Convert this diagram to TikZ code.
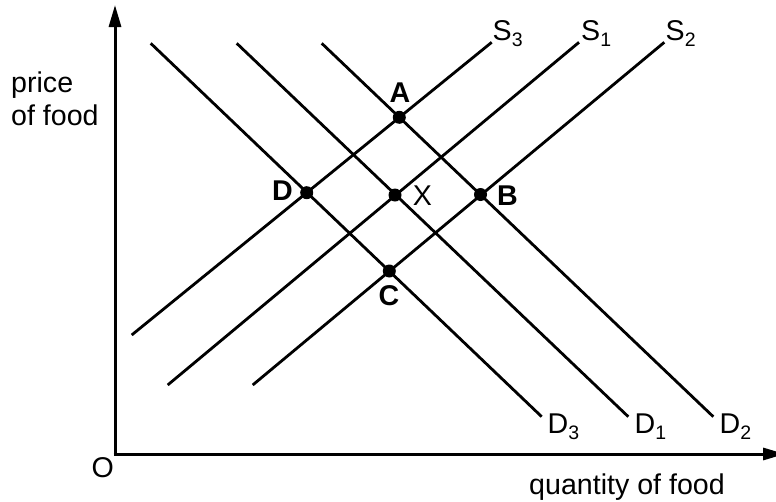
\documentclass[tikz,border=0pt]{standalone}
\usepackage{fontspec}
\setmainfont{Liberation Sans}
\usetikzlibrary{arrows.meta}
\newcommand{\sbs}[1]{\raisebox{-6pt}{\fontsize{19.5}{19.5}\selectfont #1}}
\begin{document}
\begin{tikzpicture}[x=1pt,y=-1pt,
  curve/.style={line width=2.8pt},
  axis/.style={line width=3pt,-{Triangle[length=22pt,width=12pt]}},
  dot/.style={circle,fill=black,inner sep=0pt,minimum size=13pt},
  lbl/.style={inner sep=0pt,font=\fontsize{28.6}{32}\selectfont},
  blbl/.style={inner sep=0pt,font=\fontsize{28.6}{32}\selectfont\bfseries}]
\useasboundingbox (0,0) rectangle (776,501);
% axes
\coordinate (O) at (115,454);
\coordinate (ytop) at (115,5);
\coordinate (xend) at (785,454);
\draw[axis] (O) -- (ytop);
\draw[axis] ([xshift=-1.5pt]O) -- (xend);
% demand lines
\coordinate (d3a) at (150.7,43.3); \coordinate (d3b) at (541.7,416.7);
\coordinate (d1a) at (236.7,43.3); \coordinate (d1b) at (628.3,416.7);
\coordinate (d2a) at (321.7,43.3); \coordinate (d2b) at (713.3,416.7);
\draw[curve] (d3a) -- (d3b);
\draw[curve] (d1a) -- (d1b);
\draw[curve] (d2a) -- (d2b);
% supply lines
\coordinate (s3a) at (131.7,335); \coordinate (s3b) at (491.7,42.3);
\coordinate (s1a) at (167.7,385); \coordinate (s1b) at (579,42.3);
\coordinate (s2a) at (252.7,385); \coordinate (s2b) at (664.3,42.3);
\draw[curve] (s3a) -- (s3b);
\draw[curve] (s1a) -- (s1b);
\draw[curve] (s2a) -- (s2b);
% intersection points
\node[dot] (A) at (399.3,117.3) {};
\node[dot] (D) at (306.7,192.7) {};
\node[dot] (X) at (395,195) {};
\node[dot] (B) at (480.5,194.5) {};
\node[dot] (C) at (389.3,271) {};
% point labels
\node[blbl,anchor=base] (lA) at (400,102) {A};
\node[blbl,anchor=base] (lD) at (282.5,200) {D};
\node[lbl,anchor=base] (lX) at (422.5,205) {X};
\node[blbl,anchor=base] (lB) at (507.5,205) {B};
\node[blbl,anchor=base] (lC) at (389,305) {C};
% curve labels
\node[lbl,anchor=base west] (lS3) at (492.5,40) {S\sbs{3}};
\node[lbl,anchor=base west] (lS1) at (581,40) {S\sbs{1}};
\node[lbl,anchor=base west] (lS2) at (665.5,40) {S\sbs{2}};
\node[lbl,anchor=base west] (lD3) at (547.5,433) {D\sbs{3}};
\node[lbl,anchor=base west] (lD1) at (634.5,433) {D\sbs{1}};
\node[lbl,anchor=base west] (lD2) at (719.5,433) {D\sbs{2}};
% axis labels
\node[lbl,anchor=base west] (price) at (11,92) {price};
\node[lbl,anchor=base west] (food) at (11,125) {of food};
\node[lbl,anchor=base east] (lO) at (114,477) {O};
\node[lbl,anchor=base west] (qty) at (529,494) {quantity of food};
\end{tikzpicture}
\end{document}
